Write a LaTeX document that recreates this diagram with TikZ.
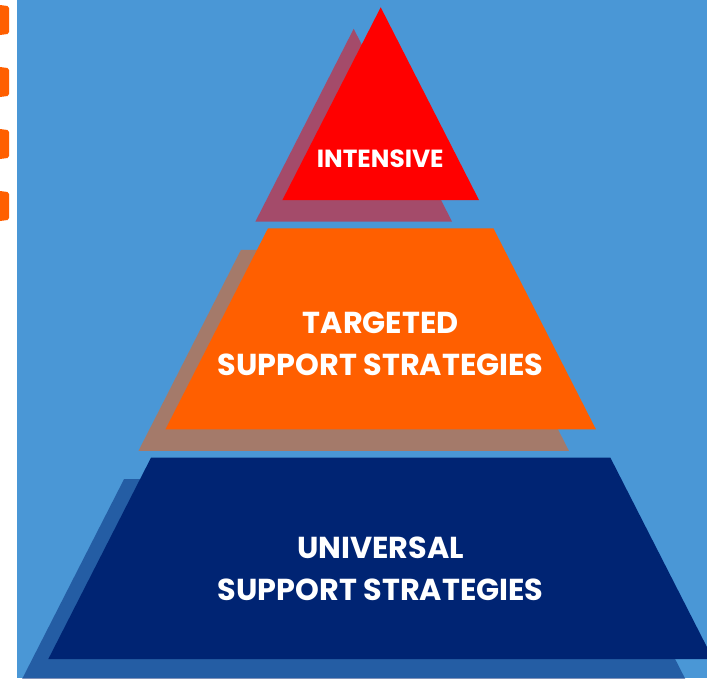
\documentclass[tikz,border=0pt]{standalone}
\usepackage{fontspec}
\newfontfamily\pyrfont{Poppins}
\definecolor{skyBlue}{HTML}{4A97D6}
\definecolor{tipRed}{HTML}{FF0000}
\definecolor{midOrange}{HTML}{FF5F00}
\definecolor{baseNavy}{HTML}{002473}

\begin{document}
\begin{tikzpicture}[x=1pt,y=-1pt,
    lbl/.style={text=white, inner sep=0pt, align=center}]
        \pgfmathsetmacro{\apexX}{380.7}
        \pgfmathsetmacro{\apexY}{7.3}
        \pgfmathsetmacro{\slope}{0.51}
        \clip (0,0) rectangle (707,678);
        \fill[white] (0,0) rectangle (707,678);
        \fill[skyBlue] (17,0) rectangle (707,678);
        \foreach \y in {5,67,129,191}{
            \fill[midOrange] (0,\y) -- (7.5,\y+1) -- (9,\y+3) -- (9,\y+27)
                -- (7.5,\y+29) -- (0,\y+30) -- cycle;
        }
        \foreach \ytop/\ybot/\col in {7.3/200/tipRed, 228.3/429.3/midOrange, 457.7/659/baseNavy}{
            \pgfmathsetmacro{\wt}{\slope*(\ytop-\apexY)}
            \pgfmathsetmacro{\wb}{\slope*(\ybot-\apexY)}
            \fill[\col, opacity=0.5, shift={(-27,21.5)}]
                (\apexX-\wt,\ytop) -- (\apexX+\wt,\ytop) -- (\apexX+\wb,\ybot) -- (\apexX-\wb,\ybot) -- cycle;
            \fill[\col]
                (\apexX-\wt,\ytop) -- (\apexX+\wt,\ytop) -- (\apexX+\wb,\ybot) -- (\apexX-\wb,\ybot) -- cycle;
        }
        \node[lbl, font=\pyrfont\bfseries\fontsize{24.8}{24.8}\selectfont] (intensive) at (380.2,158.7) {INTENSIVE};
        \node[lbl, font=\pyrfont\bfseries\fontsize{30.3}{42.3}\selectfont] (targeted) at (380.7,343.7)
            {TARGETED\\SUPPORT STRATEGIES};
        \node[lbl, font=\pyrfont\bfseries\fontsize{30.3}{42.3}\selectfont] (universal) at (380.7,569)
            {UNIVERSAL\\SUPPORT STRATEGIES};
    \end{tikzpicture}
\end{document}
